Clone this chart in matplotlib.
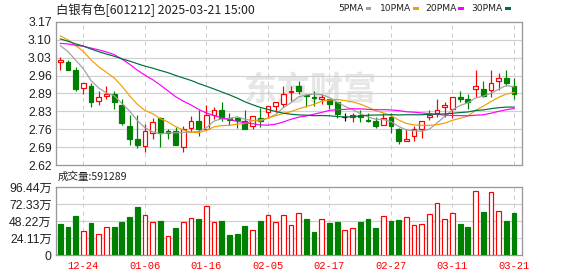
import matplotlib
matplotlib.use("Agg")
import matplotlib.pyplot as plt
import numpy as np
import pandas as pd
from matplotlib.patches import Rectangle

# ---------------- data ----------------
dates = ["12-19", "12-20", "12-23", "12-24", "12-25", "12-26", "12-27", "12-30", "12-31",
         "01-02", "01-03", "01-06", "01-07", "01-08", "01-09", "01-10", "01-13", "01-14",
         "01-15", "01-16", "01-17", "01-20", "01-21", "01-22", "01-23", "01-24", "01-27",
         "02-05", "02-06", "02-07", "02-10", "02-11", "02-12", "02-13", "02-14", "02-17",
         "02-18", "02-19", "02-20", "02-21", "02-24", "02-25", "02-26", "02-27", "02-28",
         "03-03", "03-04", "03-05", "03-06", "03-07", "03-10", "03-11", "03-12", "03-13",
         "03-14", "03-17", "03-18", "03-19", "03-20", "03-21"]

opens = [3.017, 3.015, 2.985, 2.915, 2.924, 2.865, 2.884, 2.893, 2.850, 2.770,
         2.720, 2.692, 2.742, 2.800, 2.751, 2.751, 2.691, 2.761, 2.789, 2.759,
         2.812, 2.830, 2.801, 2.800, 2.789, 2.770, 2.800, 2.823, 2.847, 2.853,
         2.902, 2.923, 2.891, 2.882, 2.875, 2.873, 2.861, 2.806, 2.803, 2.812,
         2.793, 2.791, 2.773, 2.803, 2.760, 2.711, 2.730, 2.760, 2.803, 2.821,
         2.844, 2.834, 2.882, 2.874, 2.914, 2.911, 2.907, 2.944, 2.955, 2.923]
highs = [3.037, 3.024, 2.996, 2.934, 2.937, 2.905, 2.924, 2.905, 2.874, 2.812,
         2.811, 2.778, 2.800, 2.803, 2.759, 2.768, 2.770, 2.810, 2.830, 2.850,
         2.842, 2.862, 2.819, 2.805, 2.832, 2.810, 2.838, 2.848, 2.861, 2.925,
         2.925, 2.942, 2.891, 2.905, 2.893, 2.873, 2.861, 2.819, 2.819, 2.832,
         2.819, 2.803, 2.819, 2.819, 2.762, 2.760, 2.770, 2.790, 2.832, 2.873,
         2.862, 2.880, 2.905, 2.893, 2.985, 2.943, 2.985, 2.973, 2.985, 2.953]
lows = [2.985, 2.985, 2.905, 2.894, 2.844, 2.852, 2.875, 2.834, 2.773, 2.698,
        2.685, 2.669, 2.720, 2.691, 2.721, 2.698, 2.669, 2.746, 2.732, 2.755,
        2.797, 2.789, 2.774, 2.761, 2.757, 2.760, 2.768, 2.800, 2.823, 2.843,
        2.866, 2.894, 2.842, 2.847, 2.853, 2.834, 2.802, 2.791, 2.784, 2.784,
        2.784, 2.761, 2.773, 2.742, 2.700, 2.711, 2.711, 2.723, 2.792, 2.806,
        2.806, 2.800, 2.862, 2.834, 2.882, 2.882, 2.882, 2.907, 2.925, 2.875]
closes = [3.025, 2.987, 2.914, 2.934, 2.864, 2.880, 2.892, 2.864, 2.783, 2.721,
          2.698, 2.750, 2.787, 2.742, 2.742, 2.698, 2.759, 2.788, 2.759, 2.811,
          2.830, 2.801, 2.793, 2.793, 2.760, 2.810, 2.791, 2.848, 2.861, 2.892,
          2.905, 2.906, 2.885, 2.876, 2.880, 2.853, 2.815, 2.806, 2.812, 2.803,
          2.789, 2.771, 2.800, 2.771, 2.711, 2.720, 2.759, 2.788, 2.811, 2.830,
          2.850, 2.880, 2.875, 2.862, 2.923, 2.885, 2.934, 2.953, 2.935, 2.894]

# closes of the 29 sessions before 12-19 (oldest first), estimated from the MA lines
prior_closes = [3.25, 3.22, 3.19, 3.20, 3.19, 3.16, 3.12, 3.08, 2.98, 3.00,
                3.03, 3.02, 3.01, 3.00, 3.02, 3.05, 3.07, 3.12, 3.12, 3.15,
                3.14, 3.13, 3.16, 3.19, 3.15, 3.10, 3.08, 3.10, 3.09]

# volume in 万 (10k lots)
volumes = [44.0, 40.2, 55.3, 34.0, 45.4, 29.8, 39.7, 39.7, 46.8, 53.9,
           68.1, 56.7, 46.8, 48.2, 26.9, 38.3, 46.8, 52.5, 51.1, 69.5,
           46.8, 48.2, 28.4, 29.8, 41.1, 35.5, 48.2, 56.7, 46.8, 56.7,
           42.5, 59.1, 51.1, 32.6, 50.6, 45.4, 46.8, 35.0, 38.3, 46.8,
           51.1, 38.8, 54.8, 48.2, 49.6, 53.4, 42.1, 43.5, 57.7, 73.3,
           50.6, 59.1, 44.0, 39.7, 90.3, 61.0, 88.9, 62.0, 48.2, 59.13]
# volume bar direction: r = up (red hollow), g = down (green filled)
vol_dir = ("gggrgrrggg" "grrgrgrrgr" "rggggrgrrr"
           "rrggrggrrg" "ggrggrrrrr" "rrggrgrrgg")

tick_labels = ["12-24", "01-06", "01-16", "02-05", "02-17", "02-27", "03-11", "03-21"]
price_ticks = ["2.62", "2.69", "2.76", "2.83", "2.89", "2.96", "3.03", "3.10", "3.17"]
vol_ticks = ["0", "24.11万", "48.22万", "72.33万", "96.44万"]
ma_periods = [5, 10, 20, 30]
ma_names = ["5PMA", "10PMA", "20PMA", "30PMA"]
title = "白银有色[601212] 2025-03-21 15:00"
vol_title = "成交量:591289"

# ---------------- style ----------------
RED = "#ff0000"
GREEN = "#008000"
MA_COLORS = ["#a0a0a0", "#f0a000", "#ff00ff", "#00703c"]
FRAME = "#999999"
GRID = "#d0d0d0"
W, H = 578, 276
PX = 0.72  # one pixel in points at dpi 100

fig = plt.figure(figsize=(W / 100, H / 100), dpi=100)
L, R = 56, 522
ax1 = fig.add_axes([L / W, 1 - 165 / H, (R - L) / W, (165 - 22) / H])
ax2 = fig.add_axes([L / W, 1 - 255 / H, (R - L) / W, (255 - 187) / H])

n = len(closes)
x = np.arange(n)
xlim = (-0.56, 60.04)

full = pd.Series(prior_closes + closes)
mas = [full.rolling(p).mean().values[len(prior_closes):] for p in ma_periods]

tick_pos = [dates.index(t) for t in tick_labels]

ylo, yhi = 2.62, 3.17
pt_vals = np.linspace(ylo, yhi, len(price_ticks))
vmax = 96.44
vt_vals = np.linspace(0, vmax, len(vol_ticks))

for ax in (ax1, ax2):
    ax.set_xlim(*xlim)
    for s in ax.spines.values():
        s.set_color(FRAME)
        s.set_linewidth(PX * 1.3)
    ax.tick_params(length=0)
    for p in tick_pos:
        ax.axvline(p, color="#cccccc", lw=PX, ls=(0, (4, 4)), zorder=1)

# main panel
ax1.set_ylim(ylo, yhi)
ax1.set_yticks(pt_vals)
ax1.set_yticklabels(price_ticks, family=["Liberation Sans"], fontsize=8.8, color="#222222")
ax1.tick_params(axis="y", pad=3)
ax1.set_xticks([])
for v in pt_vals[1:-1]:
    ax1.axhline(v, color=GRID, lw=PX * 1.2, zorder=1)

ax1.text(0.545, 0.52, "东方财富", transform=ax1.transAxes, fontsize=24,
         family=["Noto Sans CJK SC"], fontweight="bold", color="#e6e6e6",
         ha="center", va="center", zorder=0)

w = 0.62
for i in range(n):
    o, h, l, c = opens[i], highs[i], lows[i], closes[i]
    if c > o:
        col, face = RED, "white"
    elif c < o:
        col, face = GREEN, GREEN
    else:
        col, face = "black", "black"
    ax1.vlines(i, l, h, color=col, lw=PX * 1.2, zorder=3)
    if c != o:
        ax1.add_patch(Rectangle((i - w / 2, min(o, c)), w, abs(c - o),
                                facecolor=face, edgecolor=col, lw=PX * 1.2, zorder=4))
    else:
        ax1.hlines(o, i - w / 2, i + w / 2, color=col, lw=PX * 1.2, zorder=4)

for m, colr in zip(mas, MA_COLORS):
    ax1.plot(x, m, color=colr, lw=PX * 1.2, zorder=5)

# volume panel
ax2.set_ylim(0, vmax)
ax2.set_yticks(vt_vals)
ax2.set_yticklabels(vol_ticks, family=["Liberation Sans", "Noto Sans CJK SC"],
                    fontsize=8.8, color="#222222")
ax2.tick_params(axis="y", pad=3)
for v in vt_vals[1:-1]:
    ax2.axhline(v, color=GRID, lw=PX * 1.2, zorder=1)
for i in range(n):
    up = vol_dir[i] == "r"
    col = RED if up else GREEN
    ax2.add_patch(Rectangle((i - w / 2, 0), w, volumes[i],
                            facecolor="white" if up else GREEN, edgecolor=col,
                            lw=PX * 1.2, zorder=3))
ax2.set_xticks(tick_pos)
ax2.set_xticklabels(tick_labels, family=["Liberation Mono"], fontsize=7.6, color=RED)
ax2.tick_params(axis="x", pad=4.5)

# texts
def fx(px):
    return px / W

def fy(py):
    return 1 - py / H

fig.text(fx(56.5), fy(10.5), title, family=["Noto Sans CJK SC", "DejaVu Sans"],
         fontsize=8.9, color="#222222", va="center", ha="left")
fig.text(fx(57.5), fy(177), vol_title, family=["Noto Sans CJK SC", "DejaVu Sans"],
         fontsize=7.6, color="#222222", va="center", ha="left")

leg_x = [338.3, 380, 425.7, 471.7]
sq_x = [365.7, 413, 458, 505]
for name, colr, tx, sx in zip(ma_names, MA_COLORS, leg_x, sq_x):
    fig.text(fx(tx), fy(8.8), name, family=["DejaVu Sans"], fontsize=6.6,
             color="#222222", va="center", ha="left")
    fig.patches.append(Rectangle((fx(sx), fy(10.3)), 5.5 / W, 3 / H,
                                 transform=fig.transFigure, facecolor=colr,
                                 edgecolor="none"))

fig.savefig("out.png", dpi=100)
